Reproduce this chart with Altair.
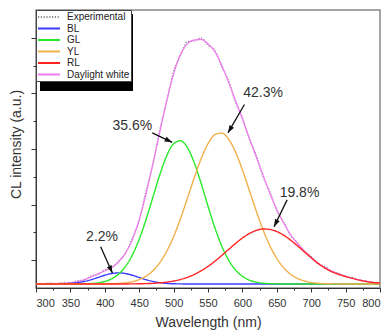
import math
import altair as alt
import pandas as pd

# ---------------- data ----------------
wavelength = list(range(300, 801, 10))

experimental = [0.08, 0.07, 0.09, 0.08, 0.10, 0.09, 0.13, 0.14, 0.22, 0.24,
                0.33, 0.36, 0.49, 0.62, 0.90, 1.21, 1.75, 2.22, 2.85, 3.35,
                3.90, 4.18, 4.43, 4.44, 4.50, 4.36, 4.28, 3.98, 3.73, 3.34,
                3.07, 2.67, 2.39, 2.00, 1.73, 1.39, 1.19, 0.94, 0.82, 0.66,
                0.57, 0.43, 0.39, 0.30, 0.27, 0.20, 0.19, 0.14, 0.13, 0.09,
                0.10]

bl = [0.072, 0.072, 0.072, 0.074, 0.076, 0.083, 0.096, 0.117, 0.149, 0.189,
      0.230, 0.260, 0.272, 0.260, 0.230, 0.189, 0.149, 0.117, 0.096, 0.083,
      0.076, 0.074, 0.072, 0.072, 0.072, 0.072, 0.072, 0.072, 0.072, 0.072,
      0.072, 0.072, 0.072, 0.072, 0.072, 0.072, 0.072, 0.072, 0.072, 0.072,
      0.072, 0.072, 0.072, 0.072, 0.072, 0.072, 0.072, 0.072, 0.072, 0.072,
      0.072]

gl = [0.072, 0.072, 0.072, 0.072, 0.072, 0.072, 0.073, 0.076, 0.081, 0.093,
      0.117, 0.165, 0.249, 0.386, 0.592, 0.877, 1.234, 1.637, 2.039, 2.378,
      2.595, 2.648, 2.527, 2.254, 1.882, 1.473, 1.084, 0.754, 0.501, 0.324,
      0.210, 0.142, 0.106, 0.087, 0.078, 0.074, 0.072, 0.072, 0.072, 0.072,
      0.072, 0.072, 0.072, 0.072, 0.072, 0.072, 0.072, 0.072, 0.072, 0.072,
      0.072]

yl = [0.072, 0.072, 0.072, 0.072, 0.072, 0.072, 0.072, 0.072, 0.072, 0.073,
      0.074, 0.077, 0.082, 0.093, 0.114, 0.151, 0.213, 0.311, 0.457, 0.660,
      0.925, 1.247, 1.610, 1.982, 2.325, 2.596, 2.758, 2.786, 2.676, 2.445,
      2.125, 1.759, 1.389, 1.048, 0.759, 0.531, 0.363, 0.248, 0.173, 0.127,
      0.100, 0.086, 0.078, 0.075, 0.073, 0.072, 0.072, 0.072, 0.072, 0.072,
      0.072]

rl = [0.072, 0.072, 0.072, 0.072, 0.072, 0.072, 0.072, 0.072, 0.072, 0.072,
      0.072, 0.072, 0.073, 0.073, 0.074, 0.076, 0.079, 0.084, 0.093, 0.106,
      0.125, 0.153, 0.192, 0.243, 0.309, 0.389, 0.482, 0.586, 0.694, 0.801,
      0.899, 0.979, 1.035, 1.061, 1.054, 1.016, 0.950, 0.862, 0.759, 0.651,
      0.543, 0.444, 0.358, 0.292, 0.245, 0.207, 0.172, 0.142, 0.117, 0.100,
      0.090]

daylight = [0.075, 0.076, 0.078, 0.080, 0.085, 0.095, 0.115, 0.150, 0.200, 0.255,
            0.310, 0.370, 0.470, 0.630, 0.870, 1.230, 1.700, 2.240, 2.810, 3.370,
            3.850, 4.200, 4.390, 4.460, 4.470, 4.390, 4.250, 4.000, 3.700, 3.370,
            3.040, 2.700, 2.360, 2.030, 1.700, 1.410, 1.170, 0.960, 0.800, 0.670,
            0.550, 0.440, 0.370, 0.305, 0.255, 0.210, 0.175, 0.145, 0.120, 0.100,
            0.090]

series_names = ["Experimental", "BL", "GL", "YL", "RL", "Daylight white"]
series_colors = ["#8a8a8a", "#3b3bff", "#2ae82a", "#f0b04c", "#ff2424", "#f07cf0"]
series_dashes = [[1.2, 1.6], [1, 0], [1, 0], [1, 0], [1, 0], [1, 0]]

ann_label = ["2.2%", "35.6%", "42.3%", "19.8%"]
ann_tx = [396, 440, 630, 683]
ann_ty = [0.92, 2.91, 3.50, 1.71]
arr_x0 = [394, 469, 603, 665]
arr_y0 = [0.74, 2.79, 3.30, 1.585]
arr_x1 = [411, 498, 579, 646]
arr_y1 = [0.27, 2.62, 2.79, 1.10]

x_ticks = list(range(300, 801, 25))
y_ticks = [0.5, 1, 1.5, 2, 2.5, 3, 3.5, 4, 4.5]

# ---------------- build tables ----------------
rows = []
for name, vals in zip(series_names, [experimental, bl, gl, yl, rl, daylight]):
    for w, v in zip(wavelength, vals):
        rows.append({"wl": w, "val": v, "series": name})
df = pd.DataFrame(rows)

W, H = 344, 278
X_DOM, Y_DOM = [300, 800], [0, 5]
pxx = W / (X_DOM[1] - X_DOM[0])
pxy = H / (Y_DOM[1] - Y_DOM[0])
angles = []
for a, b, c, d in zip(arr_x0, arr_y0, arr_x1, arr_y1):
    dx = (c - a) * pxx
    dy = -(d - b) * pxy
    angles.append(math.degrees(math.atan2(dx, -dy)) % 360)

ann = pd.DataFrame({"label": ann_label, "tx": ann_tx, "ty": ann_ty,
                    "x0": arr_x0, "y0": arr_y0, "x1": arr_x1, "y1": arr_y1,
                    "ang": angles})

FONT = "Liberation Sans"
x_scale = alt.Scale(domain=X_DOM, nice=False, zero=False)
y_scale = alt.Scale(domain=Y_DOM, nice=False, zero=False)

x_axis = alt.Axis(
    title="Wavelength (nm)", values=x_ticks,
    labelExpr="datum.value % 50 === 0 ? datum.label : ''",
    tickSize={"condition": {"test": "datum.value % 50 === 0", "value": 4}, "value": 2},
    labelFontSize=11, labelPadding=5, titleFontSize=14,
    titleBaseline="middle", titleY=34, grid=False,
)
y_axis = alt.Axis(
    title="CL intensity (a.u.)", values=y_ticks, labels=False,
    tickSize={"condition": {"test": "datum.value % 1 !== 0", "value": 5}, "value": 3},
    titleFontSize=14, titleBaseline="middle", titleX=-20, titleY=134,
    grid=False,
)

legend = alt.Legend(
    title=None, orient="top-left", offset=0, padding=1,
    fillColor="white", strokeColor="#444",
    symbolType="M-1,0H3.4", symbolSize=100, symbolStrokeWidth=2,
    labelFont=FONT, labelFontSize=10, labelColor="#222",
    labelOffset=18, rowPadding=0.5,
)

X = alt.X("wl:Q", scale=x_scale, axis=x_axis)
Y = alt.Y("val:Q", scale=y_scale, axis=y_axis)
color = alt.Color("series:N", scale=alt.Scale(domain=series_names, range=series_colors), legend=legend)
dash = alt.StrokeDash("series:N", scale=alt.Scale(domain=series_names, range=series_dashes), legend=legend)

base = alt.Chart(df).encode(x=X, y=Y, color=color, strokeDash=dash)

exp_layer = base.transform_filter(alt.datum.series == "Experimental").mark_line(
    strokeWidth=1.3, interpolate="monotone")
pink_layer = base.transform_filter(alt.datum.series == "Daylight white").mark_line(
    strokeWidth=1.3, interpolate="monotone")
comp_layer = base.transform_filter(
    alt.FieldOneOfPredicate(field="series", oneOf=["BL", "GL", "YL", "RL"])
).mark_line(strokeWidth=1.4, interpolate="monotone")

shadow = alt.Chart(pd.DataFrame({"k": [0]})).mark_rect(color="black").encode(
    x=alt.value(4), x2=alt.value(97), y=alt.value(4), y2=alt.value(81))

ax = alt.X("x0:Q", scale=x_scale, axis=x_axis)
ay = alt.Y("y0:Q", scale=y_scale, axis=y_axis)
rules = alt.Chart(ann).mark_rule(color="#111", strokeWidth=1.3).encode(
    x=ax, y=ay, x2="x1:Q", y2="y1:Q")
heads = alt.Chart(ann).mark_point(
    shape="M0,0L-0.55,1.6L0.55,1.6Z", filled=True, size=90, color="#111", opacity=1
).encode(x=alt.X("x1:Q", scale=x_scale, axis=x_axis),
         y=alt.Y("y1:Q", scale=y_scale, axis=y_axis),
         angle=alt.Angle("ang:Q", scale=None))
texts = alt.Chart(ann).mark_text(font=FONT, fontSize=14, color="#333").encode(
    x=alt.X("tx:Q", scale=x_scale, axis=x_axis),
    y=alt.Y("ty:Q", scale=y_scale, axis=y_axis),
    text="label:N")

chart = alt.layer(shadow, exp_layer, pink_layer, comp_layer, rules, heads, texts).properties(
    width=W, height=H,
    padding={"left": 28, "top": 2, "right": 1, "bottom": 43},
    autosize=alt.AutoSizeParams(type="none"),
).configure_view(stroke="#888", strokeWidth=1.5).configure_axis(
    labelFont=FONT, titleFont=FONT, titleFontWeight="normal",
    labelColor="#333", titleColor="#333", domainColor="#333", tickColor="#333",
)

chart.save("out.html", embed_options={"renderer": "svg", "actions": False})
